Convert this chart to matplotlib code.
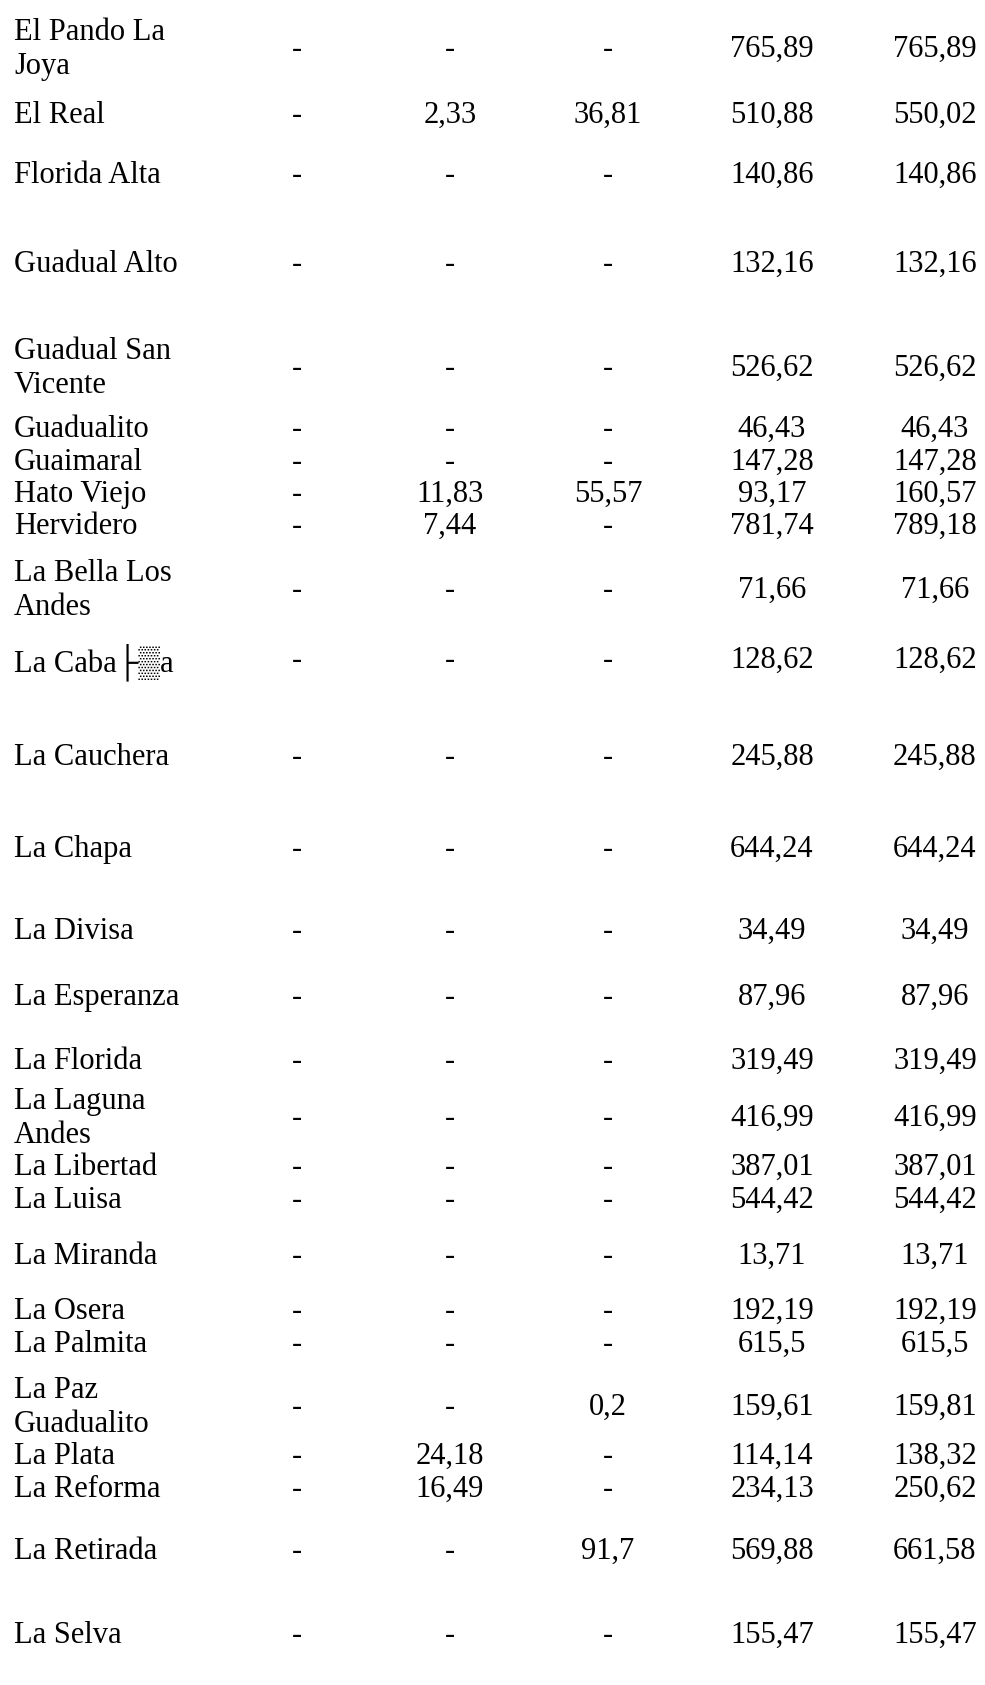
import matplotlib
matplotlib.use("Agg")
import matplotlib.pyplot as plt

# table contents (None = "-")
names = [
    "El Pando La\nJoya", "El Real", "Florida Alta", "Guadual Alto", "Guadual San\nVicente",
    "Guadualito", "Guaimaral", "Hato Viejo", "Hervidero", "La Bella Los\nAndes",
    "La Caba├▒a", "La Cauchera", "La Chapa", "La Divisa", "La Esperanza",
    "La Florida", "La Laguna\nAndes", "La Libertad", "La Luisa", "La Miranda",
    "La Osera", "La Palmita", "La Paz\nGuadualito", "La Plata", "La Reforma",
    "La Retirada", "La Selva",
]
col1 = [None] * 27
col2 = [None, 2.33, None, None, None, None, None, 11.83, 7.44, None,
        None, None, None, None, None, None, None, None, None, None,
        None, None, None, 24.18, 16.49, None, None]
col3 = [None, 36.81, None, None, None, None, None, 55.57, None, None,
        None, None, None, None, None, None, None, None, None, None,
        None, None, 0.2, None, None, 91.7, None]
col4 = [765.89, 510.88, 140.86, 132.16, 526.62, 46.43, 147.28, 93.17, 781.74, 71.66,
        128.62, 245.88, 644.24, 34.49, 87.96, 319.49, 416.99, 387.01, 544.42, 13.71,
        192.19, 615.5, 159.61, 114.14, 234.13, 569.88, 155.47]
col5 = [765.89, 550.02, 140.86, 132.16, 526.62, 46.43, 147.28, 160.57, 789.18, 71.66,
        128.62, 245.88, 644.24, 34.49, 87.96, 319.49, 416.99, 387.01, 544.42, 13.71,
        192.19, 615.5, 159.81, 138.32, 250.62, 661.58, 155.47]

# layout (pixels, top-left origin)
ROW_Y = [46, 112, 172, 261, 365, 426, 459, 491, 523, 587,
         657, 754, 846, 928, 994, 1058, 1115, 1164, 1197, 1253,
         1308, 1341, 1404, 1453, 1486, 1548, 1632]
COL_X = [297, 450, 608, 772, 935]
NAME_X = 14
LINE_GAP = 34
FONT = ["Liberation Serif", "DejaVu Sans"]
FS = 22


def fmt(v):
    return "-" if v is None else str(v).replace(".", ",")


fig = plt.figure(figsize=(9.85, 16.85), dpi=100)
ax = fig.add_axes([0, 0, 1, 1])
ax.set_xlim(0, 985)
ax.set_ylim(1685, 0)
ax.axis("off")

for i, name in enumerate(names):
    y = ROW_Y[i]
    lines = name.split("\n")
    n = len(lines)
    for k, line in enumerate(lines):
        ly = y + (k - (n - 1) / 2) * LINE_GAP
        ax.text(NAME_X, ly, line, ha="left", va="center_baseline",
                fontsize=FS, family=FONT, color="black")
    for x, col in zip(COL_X, [col1, col2, col3, col4, col5]):
        ax.text(x, y, fmt(col[i]), ha="center", va="center_baseline",
                fontsize=FS, family=FONT, color="black")

fig.savefig("out.png", dpi=100, facecolor="white")
